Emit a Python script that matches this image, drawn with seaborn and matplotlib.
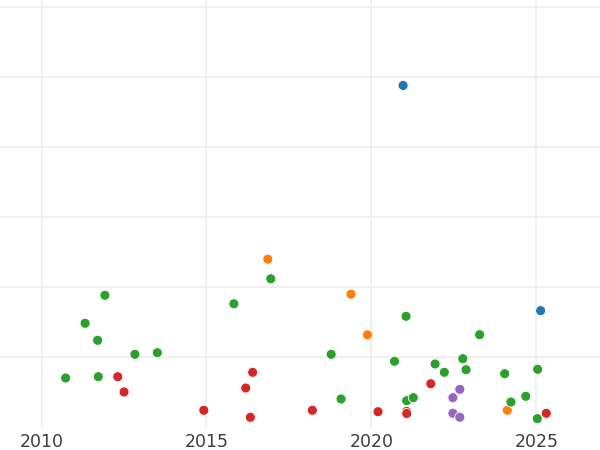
import pandas as pd
import numpy as np
import seaborn as sns
import matplotlib.pyplot as plt

# Data (decimal years, values)
years_a = [2020.96, 2025.13]
vals_a = [48.8, 16.65]

years_b = [2016.86, 2019.38, 2019.88, 2024.12]
vals_b = [24.0, 19.0, 13.2, 2.43]

years_c = [2016.95, 2011.92, 2015.83, 2011.32, 2011.70, 2012.83, 2013.51, 2010.73,
           2011.72, 2021.05, 2018.78, 2020.70, 2021.93, 2022.21, 2022.77, 2022.87,
           2023.28, 2024.04, 2025.04, 2019.08, 2021.07, 2021.27, 2024.23, 2024.68,
           2025.03]
vals_c = [21.2, 18.84, 17.64, 14.85, 12.42, 10.42, 10.65, 7.04,
          7.22, 15.85, 10.42, 9.42, 9.04, 7.85, 9.79, 8.22,
          13.22, 7.65, 8.28, 4.04, 3.80, 4.23, 3.61, 4.43,
          1.23]

years_d = [2012.31, 2012.50, 2016.40, 2016.19, 2014.92, 2016.33, 2021.80, 2025.30,
           2018.21, 2020.20, 2021.07, 2021.07]
vals_d = [7.22, 5.04, 7.85, 5.61, 2.43, 1.43, 6.22, 2.00,
          2.43, 2.23, 2.26, 1.97]

years_e = [2022.68, 2022.47, 2022.47, 2022.68]
vals_e = [5.42, 4.23, 2.00, 1.43]

groups = ["A", "B", "C", "D", "E"]
year_ticks = [2010, 2015, 2020, 2025]

# Build one long table for seaborn
df = pd.concat([
    pd.DataFrame({"year": years_a, "value": vals_a, "group": "A"}),
    pd.DataFrame({"year": years_b, "value": vals_b, "group": "B"}),
    pd.DataFrame({"year": years_c, "value": vals_c, "group": "C"}),
    pd.DataFrame({"year": years_d, "value": vals_d, "group": "D"}),
    pd.DataFrame({"year": years_e, "value": vals_e, "group": "E"}),
], ignore_index=True)

sns.set_style("whitegrid", {"grid.color": "#ebebeb", "axes.edgecolor": "white"})

fig = plt.figure(figsize=(6, 4.5), dpi=100)
ax = fig.add_axes([0, 1 - 427.3 / 450, 1, 427.3 / 450])

sns.scatterplot(data=df, x="year", y="value", hue="group", hue_order=groups,
                palette="tab10", s=52, edgecolor="white", linewidth=0.6,
                legend=False, ax=ax)

ax.set_xlim(2008.74, 2026.93)
ax.set_ylim(0, 61)
ax.set_yticks([10, 20, 30, 40, 50, 60])
ax.set_xticks(year_ticks)
ax.set_xticklabels([str(y) for y in year_ticks])
ax.set_yticklabels([])
ax.tick_params(axis="both", length=0)
ax.tick_params(axis="x", pad=4, labelsize=12.5, labelcolor="#3d3d3d")
ax.grid(True, linewidth=1.1)
ax.set_xlabel("")
ax.set_ylabel("")
sns.despine(ax=ax, left=True, bottom=True)

fig.savefig("out.png", dpi=100)
